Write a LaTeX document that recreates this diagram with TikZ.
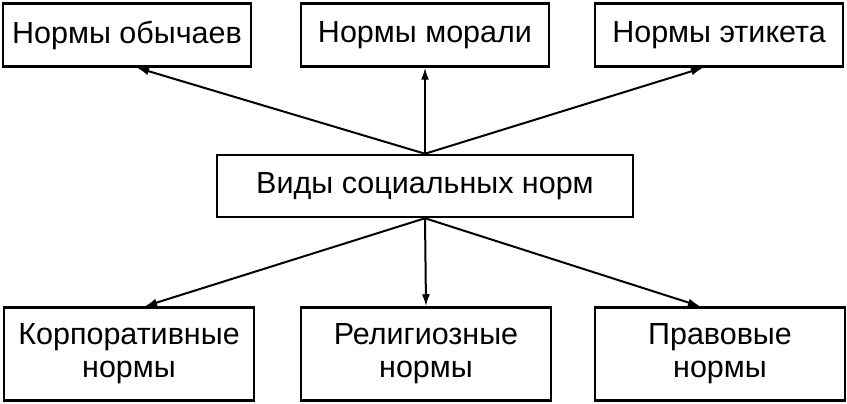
\documentclass[tikz,border=0pt]{standalone}
\usepackage{fontspec}
\setmainfont{Liberation Sans}
\usetikzlibrary{arrows.meta}

\tikzset{
	normbox/.style = {draw, line width = 2.5pt, minimum height = 63pt, minimum width = 248pt, inner sep = 0pt, font = \fontsize{30.5}{33}\selectfont},
	lowbox/.style = {normbox, minimum height = 93pt, minimum width = 250pt, align = center},
	link/.style = {line width = 2pt, -{Latex[length = 12pt, width = 8pt]}}
}

\begin{document}
\begin{tikzpicture}[x = 1pt, y = -1pt]
			\useasboundingbox (0,0) rectangle (847,404);
			\fill[white] (0,0) rectangle (847,404);

			% upper row
			\node[normbox] (obychai) at (127,35) {Нормы обычаев};
			\node[normbox] (moral) at (425,35) {Нормы морали};
			\node[normbox] (etiket) at (719,35) {Нормы этикета};

			\node[normbox, minimum width = 416pt, minimum height = 62pt] (vidy) at (425,186) {Виды социальных норм};

			% lower row
			\node[lowbox] (korp) at (129,354) {Корпоративные\\нормы};
			\node[lowbox] (relig) at (426,354) {Религиозные\\нормы};
			\node[lowbox] (pravo) at (720,354) {Правовые\\нормы};

			\draw[link] (vidy.north) -- ([xshift = 10pt]obychai.south);
			\draw[link] (vidy.north) -- (moral.south);
			\draw[link] (vidy.north) -- ([xshift = -16pt]etiket.south);

			\draw[link] (vidy.south) -- ([xshift = 16pt]korp.north);
			\draw[link] (vidy.south) -- (relig.north);
			\draw[link] (vidy.south) -- ([xshift = -20pt]pravo.north);
		\end{tikzpicture}
\end{document}
